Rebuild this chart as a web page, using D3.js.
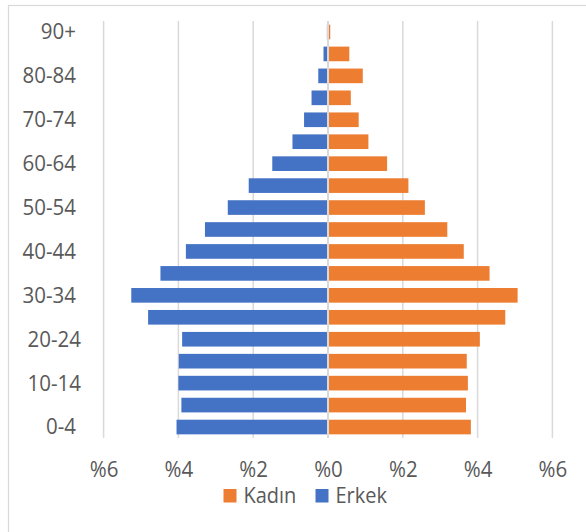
<!DOCTYPE html>
<html>
<head>
<meta charset="utf-8">
<script src="https://cdn.jsdelivr.net/npm/d3@7"></script>
<style>
  html, body { margin: 0; padding: 0; background: #fff; }
  svg { display: block; }
  text { font-family: "Open Sans", sans-serif; fill: #595959; }
</style>
</head>
<body>
<svg id="chart" width="586" height="532"></svg>
<script>
// ---- data ----
const ageGroups = ["0-4","5-9","10-14","15-19","20-24","25-29","30-34","35-39","40-44","45-49",
                   "50-54","55-59","60-64","65-69","70-74","75-79","80-84","85-89","90+"];
const erkek = [4.05, 3.92, 4.00, 3.99, 3.90, 4.81, 5.26, 4.48, 3.80, 3.29,
               2.68, 2.12, 1.49, 0.95, 0.64, 0.44, 0.26, 0.12, 0.03];
const kadin = [3.82, 3.69, 3.74, 3.71, 4.06, 4.74, 5.07, 4.32, 3.63, 3.19,
               2.59, 2.15, 1.58, 1.08, 0.82, 0.61, 0.93, 0.57, 0.06];
const xTicks = [-6, -4, -2, 0, 2, 4, 6];
const yTickLabels = ["0-4","10-14","20-24","30-34","40-44","50-54","60-64","70-74","80-84","90+"];
const seriesNames = ["Kadın", "Erkek"];
const seriesColors = ["#ED7D31", "#4472C4"];

// ---- layout ----
const svg = d3.select("#chart");
const plotTop = 21, plotBottom = 438;
const stretch = 1.1;
const x = d3.scaleLinear().domain([-6, 6]).range([103.6, 552.4]);
const y = d3.scaleBand().domain(ageGroups.slice().reverse())
  .range([plotTop, plotBottom]).paddingInner(0.333).paddingOuter(0.1665);

// chart border
svg.append("rect").attr("x", 8.5).attr("y", 5.5).attr("width", 700).attr("height", 700)
  .attr("fill", "none").attr("stroke", "#d9d9d9").attr("stroke-width", 1.2);

// gridlines
svg.append("g").selectAll("line").data(xTicks.filter(d => d !== 0)).join("line")
  .attr("x1", d => x(d)).attr("x2", d => x(d))
  .attr("y1", plotTop).attr("y2", plotBottom)
  .attr("stroke", "#d9d9d9").attr("stroke-width", 1.5);

// bars
const rows = ageGroups.map((g, i) => ({g, m: erkek[i], f: kadin[i]}));
svg.append("g").selectAll("rect").data(rows).join("rect")
  .attr("x", d => x(-d.m)).attr("width", d => x(0) - x(-d.m))
  .attr("y", d => y(d.g)).attr("height", y.bandwidth())
  .attr("fill", seriesColors[1]);
svg.append("g").selectAll("rect").data(rows).join("rect")
  .attr("x", x(0)).attr("width", d => x(d.f) - x(0))
  .attr("y", d => y(d.g)).attr("height", y.bandwidth())
  .attr("fill", seriesColors[0]);

// zero axis line
svg.append("line").attr("x1", x(0)).attr("x2", x(0))
  .attr("y1", plotTop).attr("y2", plotBottom)
  .attr("stroke", "#d9d9d9").attr("stroke-width", 2);

// x axis labels
const xAxis = d3.axisBottom(x).tickValues(xTicks)
  .tickFormat(d => "%" + Math.abs(d)).tickSize(0).tickPadding(0);
const gx = svg.append("g").attr("transform", `translate(0,${plotBottom})`).call(xAxis);
gx.select(".domain").remove();
gx.selectAll("text").attr("dy", null).attr("y", 0)
  .attr("transform", `translate(0,38.5) scale(1,${stretch})`)
  .style("font-size", "20.5px").style("font-family", "'Open Sans', sans-serif")
  .attr("fill", "#595959");

// y axis labels
const yAxis = d3.axisLeft(y).tickValues(yTickLabels).tickSize(0).tickPadding(0);
const gy = svg.append("g").attr("transform", "translate(76,0)").call(yAxis);
gy.select(".domain").remove();
gy.selectAll("text")
  .attr("x", d => (d === "20-24" || d === "10-14") ? 5 : 0)
  .attr("dy", "0.33em")
  .attr("transform", `scale(1,${stretch})`)
  .style("font-size", "20.5px").style("font-family", "'Open Sans', sans-serif")
  .attr("fill", "#595959");

// legend
const legendItems = [
  {name: seriesNames[0], color: seriesColors[0], x: 223.5},
  {name: seriesNames[1], color: seriesColors[1], x: 315.5}
];
const lg = svg.append("g").selectAll("g").data(legendItems).join("g")
  .attr("transform", d => `translate(${d.x},489)`);
lg.append("rect").attr("width", 13).attr("height", 13.5).attr("fill", d => d.color);
lg.append("text").attr("x", 20).attr("y", 0).text(d => d.name)
  .attr("transform", `translate(0,13.8) scale(1,${stretch})`)
  .style("font-size", "20px");
</script>
</body>
</html>
